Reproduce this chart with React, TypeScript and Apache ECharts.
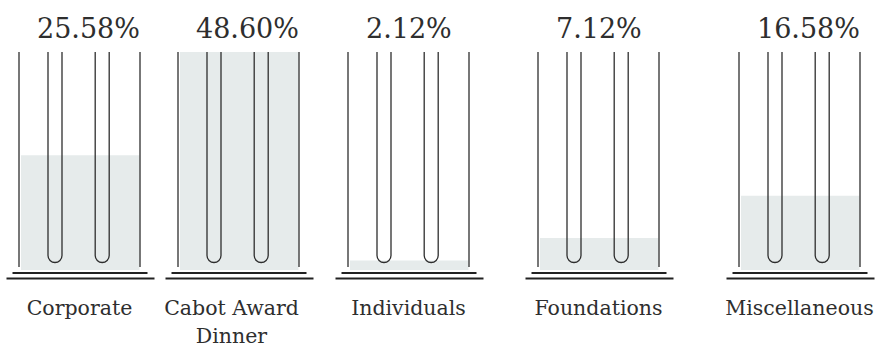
import { useEffect, useRef } from "react";
import * as echarts from "echarts";

// Share of total funding by source
const categories = ["Corporate", "Cabot Award\nDinner", "Individuals", "Foundations", "Miscellaneous"];
const shares = [25.58, 48.6, 2.12, 7.12, 16.58];

// Column layout (px): left edge of every beaker, common width
const columnLeft = [19, 178, 348, 538, 739];
const columnWidth = 121;
const labelPadRight = [0, 14, 0, 0, 0];

const FONT = "DejaVu Serif";
const INK = "#2e2e2e";
const LIQUID = "#e6ebeb";

const topShare = Math.max(...shares);

function renderBeaker(_params: any, api: any) {
  const v = api.value(1) as number;
  const [cx, yTop] = api.coord([0, topShare]);
  const yBase = api.coord([0, 0])[1];
  const yVal = api.coord([0, v])[1];
  const w = api.size([1, 0])[0];
  const L = cx - w / 2;
  const R = cx + w / 2;

  const tube = (c: number) => {
    const r = 7;
    const bottom = yBase - 14.5;
    return {
      type: "path",
      shape: {
        pathData: `M${c - r},${yTop} L${c - r},${bottom} A${r},${r} 0 0 0 ${c + r},${bottom} L${c + r},${yTop}`,
      },
      style: { fill: "none", stroke: INK, lineWidth: 1.3 },
    };
  };

  return {
    type: "group",
    children: [
      {
        type: "rect",
        shape: { x: L + 2, y: yVal, width: w - 2.5, height: yBase - yVal },
        style: { fill: LIQUID },
      },
      {
        type: "line",
        shape: { x1: L, y1: yTop, x2: L, y2: yBase - 3 },
        style: { stroke: INK, lineWidth: 1.3 },
      },
      {
        type: "line",
        shape: { x1: R, y1: yTop, x2: R, y2: yBase - 3 },
        style: { stroke: INK, lineWidth: 1.3 },
      },
      tube(cx - 24.5),
      tube(cx + 22.7),
      {
        type: "line",
        shape: { x1: cx - 67, y1: yBase + 3, x2: cx + 68, y2: yBase + 3 },
        style: { stroke: "#222", lineWidth: 2 },
      },
      {
        type: "line",
        shape: { x1: cx - 73, y1: yBase + 8.5, x2: cx + 75, y2: yBase + 8.5 },
        style: { stroke: "#222", lineWidth: 2 },
      },
      {
        type: "text",
        style: {
          x: L + 18,
          y: yTop - 24,
          text: `${v.toFixed(2)}%`,
          fontFamily: FONT,
          fontSize: 27,
          fill: INK,
          align: "left",
          verticalAlign: "middle",
        },
      },
    ],
  };
}

export default function App() {
  const ref = useRef<HTMLDivElement>(null);

  useEffect(() => {
    if (!ref.current) return;
    const chart = echarts.init(ref.current, null, { renderer: "svg" });

    const grid = categories.map((_, i) => ({
      left: columnLeft[i],
      top: 52,
      width: columnWidth,
      height: 218,
      outerBoundsMode: "none",
      containLabel: false,
    }));

    const xAxis = categories.map((name, i) => ({
      type: "category",
      gridIndex: i,
      data: [name],
      axisLine: { show: false },
      axisTick: { show: false },
      splitLine: { show: false },
      axisLabel: {
        show: true,
        margin: 23.5,
        fontFamily: FONT,
        fontSize: 20.5,
        lineHeight: 28,
        color: INK,
        padding: [0, labelPadRight[i], 0, 0],
      },
    }));

    const yAxis = categories.map((_, i) => ({
      type: "value",
      gridIndex: i,
      min: 0,
      max: topShare,
      show: false,
    }));

    const series = categories.map((_, i) => ({
      type: "custom",
      xAxisIndex: i,
      yAxisIndex: i,
      renderItem: renderBeaker,
      data: [[0, shares[i]]],
      silent: true,
    }));

    chart.setOption({
      animation: false,
      backgroundColor: "#ffffff",
      grid,
      xAxis,
      yAxis,
      series,
    });

    return () => chart.dispose();
  }, []);

  return (
    <div
      ref={ref}
      style={{ position: "fixed", left: 0, top: 0, width: 878, height: 349 }}
    />
  );
}
